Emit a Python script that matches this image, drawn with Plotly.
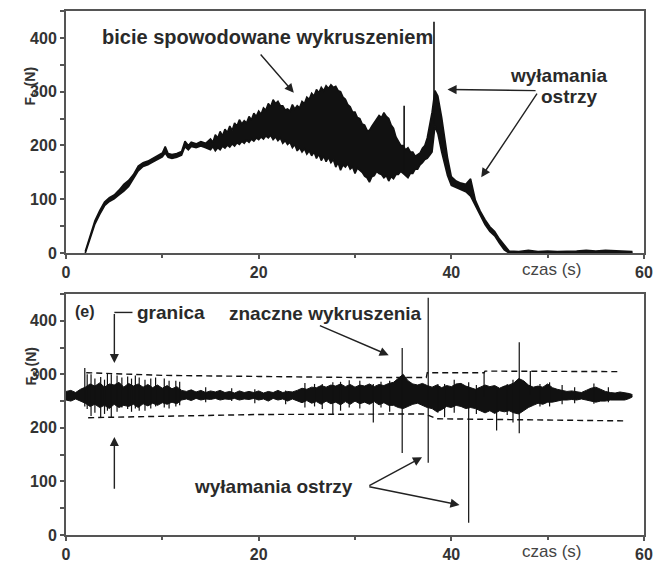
import plotly.graph_objects as go

# ---------------- data ----------------
# top panel: envelope (low / high) of the cutting force signal
t_top = [2.0, 2.5, 3.0, 3.5, 4.0, 4.5, 5.0, 5.5, 6.0, 6.5, 7.0, 7.5, 8.0, 8.5, 9.0, 9.5,
         10.0, 10.3, 10.6, 11.0, 11.5, 12.0, 12.35, 12.7, 13.0, 13.5, 14.0, 14.5,
         15.0, 15.25, 15.5, 15.75, 16.0, 16.25, 16.5, 16.75, 17.0, 17.25, 17.5, 17.75,
         18.0, 18.25, 18.5, 18.75, 19.0, 19.25, 19.5, 19.75, 20.0, 20.25, 20.5, 20.75,
         21.0, 21.25, 21.5, 21.75, 22.0, 22.25, 22.5, 22.75, 23.0, 23.25, 23.5, 23.75,
         24.0, 24.25, 24.5, 24.75, 25.0, 25.25, 25.5, 25.75, 26.0, 26.25, 26.5, 26.75,
         27.0, 27.25, 27.5, 27.75, 28.0, 28.25, 28.5, 28.75, 29.0, 29.25, 29.5, 29.75,
         30.0, 30.25, 30.5, 30.75, 31.0, 31.25, 31.5, 31.75, 32.0, 32.25, 32.5, 32.75,
         33.0, 33.25, 33.5, 33.75, 34.0, 34.25, 34.5, 34.75, 35.0, 35.25, 35.5, 35.75,
         36.0, 36.25, 36.5, 36.75, 37.0, 37.25, 37.5, 37.75,
         38.0, 38.3, 38.6, 39.0, 39.3, 39.6, 40.0, 40.5, 41.0, 41.5, 42.0, 42.5,
         43.0, 43.5, 44.0, 44.5, 45.0, 45.5, 46.0, 47.0, 48.0, 49.0, 50.0, 51.0, 52.0, 53.0,
         54.0, 55.0, 56.0, 57.0, 58.0, 58.8]
lo_top = [0, 26, 54, 72, 88, 96, 101, 108, 115, 124, 138, 153, 161, 164, 169, 174,
          179, 186, 178, 176, 178, 182, 198, 192, 198, 196, 199, 196,
          192, 198, 190, 196, 192, 199, 195, 201, 197, 203, 199, 205,
          202, 208, 204, 210, 206, 212, 208, 214, 211, 216, 212, 218,
          214, 219, 211, 216, 209, 214, 204, 209, 202, 206, 196, 202,
          190, 196, 188, 194, 184, 190, 181, 188, 176, 184, 172, 180,
          170, 178, 168, 174, 160, 168, 154, 164, 160, 166, 156, 160,
          148, 158, 154, 150, 143, 140, 132, 142, 144, 152, 148, 146,
          140, 144, 134, 142, 138, 146, 146, 152, 148, 144, 140, 148,
          148, 156, 156, 164, 168, 174, 176, 182,
          188, 236, 222, 188, 164, 144, 126, 122, 118, 114, 106, 88,
          68, 53, 40, 32, 18, 6, 0, 0, 0, 0, 0, 0, 0, 0,
          0, 0, 0, 0, 0, 0]
hi_top = [3, 32, 60, 79, 95, 103, 108, 117, 128, 135, 146, 162, 168, 171, 176, 181,
          186, 198, 185, 183, 185, 189, 208, 200, 206, 203, 207, 204,
          212, 206, 220, 214, 226, 218, 230, 224, 236, 228, 242, 236,
          248, 240, 246, 242, 254, 248, 260, 254, 264, 258, 270, 266,
          278, 272, 285, 278, 282, 274, 274, 266, 268, 264, 276, 268,
          274, 270, 282, 278, 290, 286, 297, 292, 304, 298, 308, 302,
          311, 306, 313, 308, 310, 302, 300, 290, 286, 276, 272, 262,
          262, 252, 250, 240, 238, 228, 228, 236, 242, 248, 256, 252,
          261, 254, 250, 238, 232, 216, 208, 200, 200, 192, 196, 188,
          188, 180, 183, 186, 195, 200, 214, 236,
          262, 302, 292, 252, 212, 178, 142, 134, 130, 128, 138, 98,
          78, 62, 49, 40, 26, 14, 4, 3, 5, 3, 4, 3, 3, 4,
          5, 4, 5, 4, 4, 3]
# top panel: isolated spikes (time, low, high)
spk_top_t = [35.1, 38.2]
spk_top_lo = [150, 240]
spk_top_hi = [274, 430]

# bottom panel: envelope of the monitored signal
t_bot = [0.0, 0.5, 1.0, 1.5,
         2.0, 2.5, 3.0, 3.5, 4.0, 4.5, 5.0, 5.5, 6.0, 6.5, 7.0, 7.5, 8.0, 8.5, 9.0, 9.5,
         10.0, 10.5, 11.0, 11.5,
         12.0, 12.5, 13.0, 13.5, 14.0, 14.5, 15.0, 15.5, 16.0, 16.5, 17.0, 17.5, 18.0, 18.5,
         19.0, 19.5, 20.0, 20.5, 21.0, 21.5, 22.0, 22.5, 23.0, 23.5,
         24.0, 24.5, 25.0, 25.5, 26.0, 26.5, 27.0, 27.5, 28.0, 28.5, 29.0, 29.5, 30.0, 30.5,
         31.0, 31.5, 32.0, 32.5, 33.0, 33.5,
         34.0, 34.5, 35.0, 35.5, 36.0, 36.5, 37.0, 37.5,
         38.0, 38.5, 39.0, 39.5, 40.0, 40.5, 41.0, 41.5, 42.0, 42.5, 43.0, 43.5, 44.0, 44.5,
         45.0, 45.5, 46.0, 46.5, 47.0, 47.5,
         48.0, 48.5, 49.0, 49.5, 50.0, 50.5, 51.0, 51.5, 52.0, 52.5, 53.0, 53.5, 54.0, 54.5,
         55.0, 55.5, 56.0, 56.5, 57.0, 57.5, 58.0, 58.5, 58.8]
hi_bot = [268, 270, 266, 272,
          276, 282, 278, 284, 276, 282, 280, 285, 276, 283, 278, 282, 276, 281, 275, 280,
          274, 279, 273, 277,
          270, 268, 271, 267, 270, 266, 269, 267, 270, 266, 268, 265, 269, 266, 268, 266,
          269, 265, 268, 266, 270, 266, 268, 267,
          270, 274, 272, 276, 275, 279, 276, 280, 278, 282, 277, 281, 276, 280, 278, 282,
          277, 281, 279, 283,
          285, 292, 300, 288, 282, 280, 283, 279,
          276, 280, 275, 279, 277, 282, 283, 278, 275, 272, 276, 280, 277, 279, 274, 278,
          280, 284, 292, 288,
          280, 276, 278, 276, 282, 275, 272, 270, 268, 269, 268, 266, 270, 274, 276, 272,
          268, 266, 265, 267, 266, 264, 262]
lo_bot = [252, 250, 254, 250,
          246, 240, 244, 238, 242, 236, 244, 238, 242, 240, 244, 238, 245, 241, 246, 242,
          247, 244, 248, 245,
          252, 254, 251, 255, 252, 254, 253, 255, 252, 254, 253, 255, 252, 254, 253, 255,
          252, 254, 250, 255, 252, 254, 250, 254,
          250, 247, 251, 246, 249, 244, 250, 245, 248, 243, 249, 244, 250, 245, 248, 244,
          249, 243, 247, 242,
          242, 238, 236, 240, 244, 246, 242, 238,
          236, 230, 234, 240, 238, 242, 240, 236, 238, 236, 232, 228, 232, 227, 232, 230,
          232, 228, 226, 232,
          238, 242, 246, 244, 248, 248, 250, 252, 252, 253, 252, 254, 252, 250, 248, 250,
          250, 252, 252, 253, 252, 255, 258]
# bottom panel: spikes (time, low, high)
spk_bot_t = [1.95, 2.2, 2.6, 3.0, 3.6, 4.0, 4.3, 4.7, 5.3, 5.8, 6.4, 6.8, 7.2, 7.6, 8.2,
             8.8, 9.3, 10.2, 10.7, 11.4, 11.8, 14.5, 17.2, 19.6, 22.8, 24.8, 25.8, 26.6,
             27.7, 28.5, 29.4, 30.5, 31.9, 32.7, 33.6, 34.9, 37.6, 38.6, 39.3, 40.3, 41.8,
             42.6, 43.4, 44.7, 45.8, 46.4, 47.05, 48.2, 49.2, 50.2, 51.5, 52.8, 54.8, 56.3]
spk_bot_lo = [240, 235, 222, 228, 219, 226, 232, 220, 230, 238, 235, 230, 236, 232, 232,
              236, 240, 238, 236, 240, 242, 248, 250, 246, 244, 238, 240, 235,
              226, 232, 238, 236, 210, 238, 230, 153, 135, 228, 220, 228, 23,
              226, 258, 195, 224, 210, 190, 262, 240, 240, 244, 246, 245, 248]
spk_bot_hi = [312, 300, 300, 292, 295, 290, 302, 300, 298, 294, 296, 292, 298, 294, 290,
              292, 294, 292, 288, 288, 286, 276, 274, 272, 270, 284, 282, 282,
              285, 286, 289, 288, 282, 286, 288, 349, 443, 282, 282, 290, 285,
              280, 303, 270, 282, 290, 360, 306, 282, 285, 280, 276, 283, 276]
# bottom panel: dashed limits ("granica")
lim_up_t = [2.1, 10, 20, 30, 37.4, 37.5, 43.4, 43.5, 57.5]
lim_up = [303, 298, 296, 294, 294, 303, 303, 306, 305]
lim_lo_t = [2.3, 10, 20, 37.3, 38.5, 58.0]
lim_lo = [219, 222, 225, 226, 217, 213]

x_ticks = [0, 20, 40, 60]
y_ticks = [0, 100, 200, 300, 400]

assert len(t_top) == len(lo_top) == len(hi_top)
assert len(t_bot) == len(lo_bot) == len(hi_bot)
assert len(spk_bot_t) == len(spk_bot_lo) == len(spk_bot_hi)

# ---------------- figure ----------------
INK = "#111111"
FRAME = "#555555"
TXT = "#2a2a2a"
FONT = "Liberation Sans, Arial, sans-serif"

fig = go.Figure()


def add_envelope(t, lo, hi, xa, ya, w=1.4):
    fig.add_trace(go.Scatter(x=t, y=lo, mode="lines", line=dict(color=INK, width=w),
                             xaxis=xa, yaxis=ya, hoverinfo="skip", showlegend=False))
    fig.add_trace(go.Scatter(x=t, y=hi, mode="lines", line=dict(color=INK, width=w),
                             fill="tonexty", fillcolor=INK,
                             xaxis=xa, yaxis=ya, hoverinfo="skip", showlegend=False))


def add_spikes(ts, los, his, xa, ya, width=1.3):
    xs, ys = [], []
    for t, lo, hi in zip(ts, los, his):
        xs += [t, t, None]
        ys += [lo, hi, None]
    fig.add_trace(go.Scatter(x=xs, y=ys, mode="lines", line=dict(color=INK, width=width),
                             xaxis=xa, yaxis=ya, hoverinfo="skip", showlegend=False))


add_envelope(t_top, lo_top, hi_top, "x", "y", w=1.6)
add_spikes(spk_top_t, spk_top_lo, spk_top_hi, "x", "y", width=1.6)

add_envelope(t_bot, lo_bot, hi_bot, "x2", "y2", w=1.0)
add_spikes(spk_bot_t, spk_bot_lo, spk_bot_hi, "x2", "y2", width=1.2)
fig.add_trace(go.Scatter(x=lim_up_t, y=lim_up, mode="lines",
                         line=dict(color=INK, width=1.4, dash="6px,4px"),
                         xaxis="x2", yaxis="y2", hoverinfo="skip", showlegend=False))
fig.add_trace(go.Scatter(x=lim_lo_t, y=lim_lo, mode="lines",
                         line=dict(color=INK, width=1.4, dash="6px,4px"),
                         xaxis="x2", yaxis="y2", hoverinfo="skip", showlegend=False))

axis_common = dict(showgrid=False, zeroline=False, showline=True, mirror=True,
                   linecolor=FRAME, linewidth=2, ticks="outside", ticklen=4,
                   tickwidth=1.5, tickcolor=FRAME,
                   tickfont=dict(family=FONT, size=16, color="#333333", weight="bold"))
xaxis_cfg = dict(axis_common, range=[0, 60], tickvals=x_ticks,
                 minor=dict(ticks="outside", ticklen=3, dtick=10, tick0=0,
                            tickcolor=FRAME, tickwidth=1.5))
yaxis_cfg = dict(axis_common, range=[0, 450], tickvals=y_ticks,
                 minor=dict(ticks="outside", ticklen=4, dtick=50, tick0=0,
                            tickcolor=FRAME, tickwidth=1.5))

fig.update_layout(
    width=662, height=572,
    margin=dict(l=66, r=10, t=9, b=24),
    paper_bgcolor="white", plot_bgcolor="white",
    xaxis=dict(xaxis_cfg, domain=[0, 1], anchor="y"),
    yaxis=dict(yaxis_cfg, domain=[0.538, 1], anchor="x"),
    xaxis2=dict(xaxis_cfg, domain=[0, 1], anchor="y2"),
    yaxis2=dict(yaxis_cfg, domain=[0, 0.460], anchor="x2"),
    showlegend=False,
)

bold = dict(family=FONT, size=19, color=TXT, weight="bold")
ann = []


def text(x, y, s, xr, yr, font=bold, **kw):
    ann.append(dict(x=x, y=y, xref=xr, yref=yr, text=s, showarrow=False, font=font, **kw))


def arrow(x, y, ax, ay, xr, yr, head=2):
    ann.append(dict(x=x, y=y, ax=ax, ay=ay, xref=xr, yref=yr, axref=xr, ayref=yr,
                    text="", showarrow=True, arrowhead=head, arrowsize=1.3,
                    arrowwidth=1.4, arrowcolor="#222222", standoff=0, startstandoff=0))


# top panel annotations
text(20.9, 401, "bicie spowodowane wykruszeniem", "x", "y",
     font=dict(family=FONT, size=20, color=TXT, weight="bold"))
arrow(23.65, 298, 20.07, 372, "x", "y")
text(51.2, 331, "wyłamania", "x", "y")
text(52.2, 291, "ostrzy", "x", "y")
arrow(39.6, 304, 48.9, 302, "x", "y")
arrow(43.1, 141, 49.0, 299, "x", "y")

# bottom panel annotations
text(1.95, 417, "(e)", "x2", "y2", font=dict(family=FONT, size=16, color=TXT, weight="bold"))
text(10.85, 415.5, "granica", "x2", "y2")
arrow(5.02, 321, 5.02, 415.5, "x2", "y2")
arrow(5.02, 183, 5.02, 83.5, "x2", "y2")
text(26.93, 413.7, "znaczne wykruszenia", "x2", "y2")
arrow(33.5, 335.7, 26.2, 392, "x2", "y2")
text(21.5, 90.7, "wyłamania ostrzy", "x2", "y2")
arrow(36.96, 145, 31.33, 90.7, "x2", "y2")
arrow(40.85, 56, 31.33, 90.7, "x2", "y2")

# axis labels
for yr, yc in (("y", 0.775), ("y2", 0.786)):
    ann.append(dict(x=-0.078, y=yc, xref="paper", yref=yr + " domain",
                    text="F<sub>S</sub> (N)", showarrow=False, textangle=-90,
                    font=dict(family=FONT, size=14, color="#333333", weight="bold")))
for xr, yr in (("x", "y"), ("x2", "y2")):
    ann.append(dict(x=50.5, y=0, xref=xr, yref=yr + " domain", yanchor="top", yshift=-5,
                    text="czas (s)", showarrow=False,
                    font=dict(family=FONT, size=17, color="#444444")))

fig.update_layout(annotations=ann)
fig.add_shape(type="line", x0=5.02, x1=6.9, y0=415.5, y1=415.5, xref="x2", yref="y2",
              line=dict(color="#222222", width=1.4))

fig.write_html("out.html", config={"displayModeBar": False},
               post_script="document.body.style.margin='0';document.body.style.padding='0';")
